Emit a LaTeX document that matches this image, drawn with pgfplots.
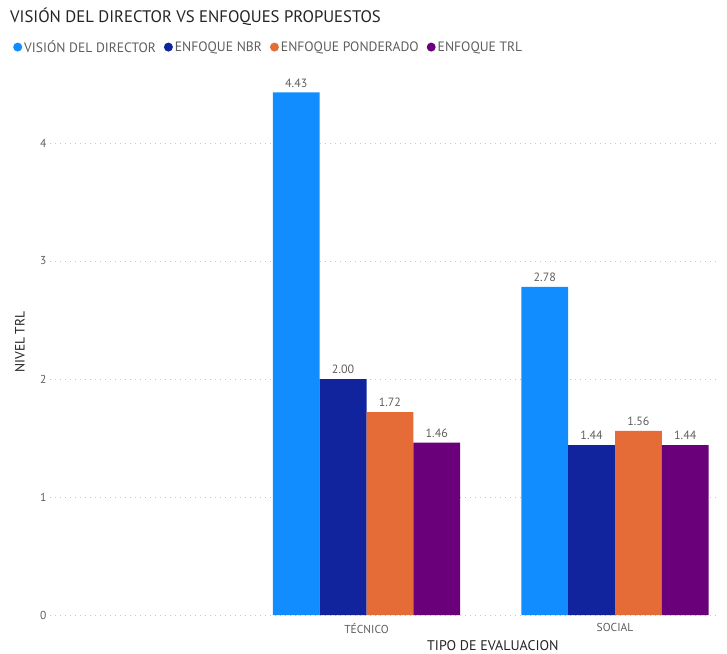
\documentclass[border=0pt]{standalone}
\usepackage{pgfplots}
\pgfplotsset{compat=1.18}
\usepackage{fontspec}
\setmainfont{PT Sans}
\newfontfamily\dinfont{PT Sans}[FakeStretch=0.85]
\definecolor{c1}{HTML}{118DFF}
\definecolor{c2}{HTML}{12239E}
\definecolor{c3}{HTML}{E66C37}
\definecolor{c4}{HTML}{6B007B}
\definecolor{txt}{HTML}{252423}
\definecolor{lbl}{HTML}{605E5C}
\definecolor{grd}{HTML}{C8C6C4}
\begin{document}
\begin{tikzpicture}[x=1pt,y=1pt]
\useasboundingbox (0,0) rectangle (727,653);
\node[anchor=west, font=\fontsize{16.7}{17}\selectfont, text=txt, inner sep=0pt] at (10,636) {VISIÓN DEL DIRECTOR VS ENFOQUES PROPUESTOS};
\begin{axis}[
  at={(50pt,38pt)}, anchor=south west,
  scale only axis, width=670pt, height=554.6pt,
  xmin=-0.2736, xmax=2.4225, ymin=0, ymax=4.7,
  ybar=0pt, bar width=0.1885,
  clip=false,
  axis line style={draw=none},
  major tick style={draw=none},
  ymajorgrids,
  major grid style={draw=grd, line width=0.8pt, dash pattern=on 0.8pt off 4.2pt},
  ytick={0,1,2,3,4},
  xtick={1,2}, xticklabels={TÉCNICO, SOCIAL},
  /pgf/number format/assume math mode=true,
  y tick label style={font=\fontsize{11.5}{12}\selectfont, text=lbl},
  x tick label style={font=\fontsize{11.5}{12}\selectfont, text=lbl, yshift=-1pt},
  xlabel={TIPO DE EVALUACION},
  ylabel={NIVEL TRL},
  x label style={at={(axis description cs:0.661,0)}, anchor=base, yshift=-35pt, font=\fontsize{14}{14}\selectfont, text=txt},
  y label style={at={(axis description cs:-0.0448,0.492)}, anchor=center, font=\fontsize{13.5}{14}\selectfont, text=txt},
  nodes near coords,
  nodes near coords style={font=\fontsize{12}{12}\selectfont, text=lbl, /pgf/number format/fixed, /pgf/number format/fixed zerofill, /pgf/number format/precision=2, yshift=1.5pt},
  legend columns=4,
  legend cell align=left,
  legend style={at={(axis description cs:-0.0597,1.024)}, anchor=west, draw=none, fill=none, font=\fontsize{13.6}{14}\selectfont, text=lbl, /tikz/every even column/.append style={column sep=6pt}},
  legend image code/.code={\fill[#1] (2pt,0pt) circle (4.5pt);},
]
\addplot[fill=c1, draw=none] coordinates {(1,4.43) (2,2.78)};
\addplot[fill=c2, draw=none] coordinates {(1,2.00) (2,1.44)};
\addplot[fill=c3, draw=none] coordinates {(1,1.72) (2,1.56)};
\addplot[fill=c4, draw=none] coordinates {(1,1.46) (2,1.44)};
\legend{VISIÓN DEL DIRECTOR, ENFOQUE NBR, ENFOQUE PONDERADO, ENFOQUE TRL}
\end{axis}
\end{tikzpicture}
\end{document}
